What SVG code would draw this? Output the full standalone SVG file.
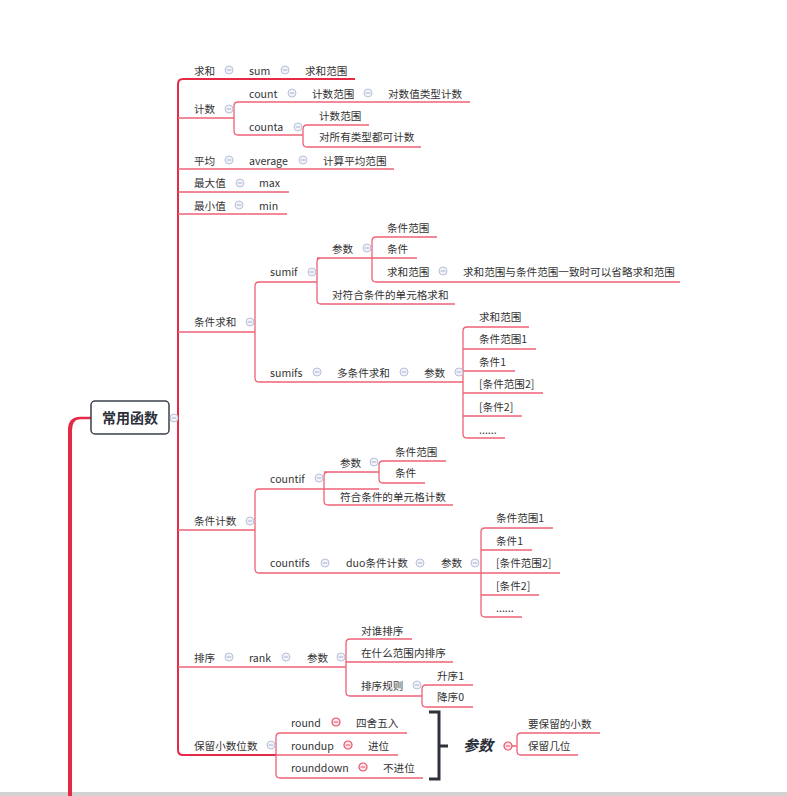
<svg xmlns="http://www.w3.org/2000/svg" width="787" height="796" viewBox="0 0 787 796">
<style>
text{font-family:"Noto Sans CJK SC","Liberation Sans",sans-serif;font-size:10.6px;fill:#333}
.ln{fill:none;stroke:#ef6277;stroke-width:1.3}
.tr{fill:none;stroke:#e62a45;stroke-width:2}
.ic circle{fill:#f1f3f9;stroke:#b7c1da;stroke-width:1}
.ic line{stroke:#a9b5d2;stroke-width:1}
.rc circle{fill:#fde9ec;stroke:#e8506a;stroke-width:1.2}
.rc line{stroke:#e8506a;stroke-width:1}
.root text{font-size:14px;font-weight:bold;fill:#2b2f3a}
</style>
<defs>
<g id="ico" class="ic"><circle r="4"/><line x1="-2.3" y1="0" x2="2.3" y2="0"/></g>
<g id="rico" class="rc"><circle r="4"/><line x1="-2.3" y1="0" x2="2.3" y2="0"/></g>
</defs>
<rect width="787" height="796" fill="#fff"/>
<rect x="0" y="792" width="787" height="4" fill="#d2d2d2"/>

<g id="connectors">
<path d="M68,796 L68,430 Q68,417 80,416.8 L91,416.8 L91,419.2 L80,419.2 Q72,419.5 72,430 L72,796 Z" fill="#e62a45"/>
<path class="tr" d="M355,79 L183,79 Q178,79 178,84 L178,750 Q178,755 183,755 L276,755"/>
<path class="ln" d="M169,418 L178,418"/>
<path class="ln" d="M178,118 L234,118 M470,102 L238,102 Q234,102 234,106 L234,131 Q234,135 238,135 L303,135"/>
<path class="ln" d="M369,125 L307,125 Q303,125 303,129 L303,143 Q303,147 307,147 L421,147"/>
<path class="ln" d="M178,169 L394,169 M178,192 L289,192 M178,214 L287,214"/>
<path class="ln" d="M178,332 L255,332 M317,282 L259,282 Q255,282 255,286 L255,378 Q255,382 259,382 L463,382"/>
<path class="ln" d="M317,258 L372,258 M371,258 L321,258 Q317,258 317,262 L317,300 Q317,304 321,304 L455,304"/>
<path class="ln" d="M437,237 L376,237 Q372,237 372,241 L372,278 Q372,282 376,282 L680,282 M372,258 L417,258"/>
<path class="ln" d="M529,327 L467,327 Q463,327 463,331 L463,434 Q463,438 467,438 L505,438 M463,349 L536,349 M463,371 L515,371 M463,393 L543,393 M463,416 L522,416"/>
<path class="ln" d="M178,530 L255,530 M324,489 L259,489 Q255,489 255,493 L255,569 Q255,573 259,573 L560,573"/>
<path class="ln" d="M324,472 L379,472 M379,489 L324,489 M453,505 L328,505 Q324,505 324,501 L324,476 Q324,472 328,472"/>
<path class="ln" d="M446,461 L383,461 Q379,461 379,465 L379,479 Q379,483 383,483 L425,483"/>
<path class="ln" d="M553,528 L485,528 Q481,528 481,532 L481,613 Q481,617 485,617 L522,617 M481,550 L532,550 M481,595 L539,595"/>
<path class="ln" d="M178,667 L346,667 M412,639 L350,639 Q346,639 346,643 L346,692 Q346,696 350,696 L422,696 M346,662 L453,662"/>
<path class="ln" d="M473,685 L426,685 Q422,685 422,689 L422,703 Q422,707 426,707 L473,707"/>
<path class="ln" d="M407,733 L280,733 Q276,733 276,737 L276,774 Q276,778 280,778 L423,778 M276,755 L398,755"/>
<path fill="none" stroke="#2f323a" stroke-width="3" d="M429,712 L439,712 L439,779 L429,779 M439,746 L448,746"/>
<path class="ln" d="M512,746 L517,746 M600,733 L521,733 Q517,733 517,737 L517,751 Q517,755 521,755 L578,755"/>
</g>

<g id="root" class="root">
<rect x="91" y="401" width="78" height="33" rx="4" fill="#fff" stroke="#3a3f4a" stroke-width="1.5"/>
<text x="130" y="423" text-anchor="middle">常用函数</text>
<use href="#ico" x="174" y="418"/>
</g>

<g id="n-qiuhe"><text x="194" y="75">求和</text><use href="#ico" x="229" y="70"/></g>
<g id="n-sum"><text x="249" y="75">sum</text><use href="#ico" x="285" y="70"/></g>
<g id="n-sum-range"><text x="305" y="75">求和范围</text></g>

<g id="n-jishu"><text x="194" y="113">计数</text><use href="#ico" x="229" y="109"/></g>
<g id="n-count"><text x="249" y="98">count</text><use href="#ico" x="292" y="93"/></g>
<g id="n-count-range"><text x="312" y="98">计数范围</text><use href="#ico" x="368" y="93"/></g>
<g id="n-count-desc"><text x="388" y="98">对数值类型计数</text></g>
<g id="n-counta"><text x="249" y="131">counta</text><use href="#ico" x="298" y="127"/></g>
<g id="n-counta-range"><text x="319" y="120">计数范围</text></g>
<g id="n-counta-desc"><text x="319" y="141">对所有类型都可计数</text></g>

<g id="n-pingjun"><text x="194" y="165">平均</text><use href="#ico" x="229" y="160"/></g>
<g id="n-average"><text x="249" y="165">average</text><use href="#ico" x="303" y="160"/></g>
<g id="n-avg-range"><text x="323" y="165">计算平均范围</text></g>

<g id="n-zuidazhi"><text x="194" y="187">最大值</text><use href="#ico" x="240" y="183"/></g>
<g id="n-max"><text x="259" y="187">max</text></g>
<g id="n-zuixiaozhi"><text x="194" y="210">最小值</text><use href="#ico" x="239" y="205"/></g>
<g id="n-min"><text x="259" y="210">min</text></g>

<g id="n-tjqh"><text x="194" y="326">条件求和</text><use href="#ico" x="250" y="322"/></g>
<g id="n-sumif"><text x="270" y="276">sumif</text><use href="#ico" x="312" y="272"/></g>
<g id="n-sumif-args"><text x="332" y="253">参数</text><use href="#ico" x="367" y="248"/></g>
<g id="n-sumif-a1"><text x="387" y="232">条件范围</text></g>
<g id="n-sumif-a2"><text x="387" y="253">条件</text></g>
<g id="n-sumif-a3"><text x="387" y="276">求和范围</text><use href="#ico" x="443" y="271"/></g>
<g id="n-sumif-note"><text x="463" y="276">求和范围与条件范围一致时可以省略求和范围</text></g>
<g id="n-sumif-desc"><text x="332" y="299">对符合条件的单元格求和</text></g>
<g id="n-sumifs"><text x="270" y="377">sumifs</text><use href="#ico" x="317" y="372"/></g>
<g id="n-sumifs-desc"><text x="337" y="377">多条件求和</text><use href="#ico" x="404" y="372"/></g>
<g id="n-sumifs-args"><text x="424" y="377">参数</text><use href="#ico" x="459" y="372"/></g>
<g id="n-sumifs-a1"><text x="479" y="321">求和范围</text></g>
<g id="n-sumifs-a2"><text x="479" y="343">条件范围1</text></g>
<g id="n-sumifs-a3"><text x="479" y="366">条件1</text></g>
<g id="n-sumifs-a4"><text x="479" y="388">[条件范围2]</text></g>
<g id="n-sumifs-a5"><text x="479" y="411">[条件2]</text></g>
<g id="n-sumifs-a6"><text x="479" y="434">......</text></g>

<g id="n-tjjs"><text x="194" y="525">条件计数</text><use href="#ico" x="250" y="521"/></g>
<g id="n-countif"><text x="270" y="483">countif</text><use href="#ico" x="319" y="478"/></g>
<g id="n-countif-args"><text x="340" y="467">参数</text><use href="#ico" x="374" y="462"/></g>
<g id="n-countif-a1"><text x="395" y="456">条件范围</text></g>
<g id="n-countif-a2"><text x="395" y="477">条件</text></g>
<g id="n-countif-desc"><text x="340" y="501">符合条件的单元格计数</text></g>
<g id="n-countifs"><text x="270" y="567">countifs</text><use href="#ico" x="325" y="563"/></g>
<g id="n-countifs-desc"><text x="346" y="567">duo条件计数</text><use href="#ico" x="420" y="563"/></g>
<g id="n-countifs-args"><text x="441" y="567">参数</text><use href="#ico" x="475" y="563"/></g>
<g id="n-countifs-a1"><text x="496" y="522">条件范围1</text></g>
<g id="n-countifs-a2"><text x="496" y="545">条件1</text></g>
<g id="n-countifs-a3"><text x="496" y="567">[条件范围2]</text></g>
<g id="n-countifs-a4"><text x="496" y="590">[条件2]</text></g>
<g id="n-countifs-a5"><text x="496" y="612">......</text></g>

<g id="n-paixu"><text x="194" y="662">排序</text><use href="#ico" x="229" y="657"/></g>
<g id="n-rank"><text x="249" y="662">rank</text><use href="#ico" x="286" y="657"/></g>
<g id="n-rank-args"><text x="307" y="662">参数</text><use href="#ico" x="341" y="657"/></g>
<g id="n-rank-a1"><text x="361" y="635">对谁排序</text></g>
<g id="n-rank-a2"><text x="361" y="657">在什么范围内排序</text></g>
<g id="n-rank-a3"><text x="361" y="690">排序规则</text><use href="#ico" x="417" y="685"/></g>
<g id="n-asc"><text x="437" y="680">升序1</text></g>
<g id="n-desc"><text x="437" y="701">降序0</text></g>

<g id="n-blxsws"><text x="194" y="750">保留小数位数</text><use href="#ico" x="271" y="745"/></g>
<g id="n-round"><text x="291" y="727">round</text><use href="#rico" x="336" y="722"/></g>
<g id="n-round-desc"><text x="356" y="727">四舍五入</text></g>
<g id="n-roundup"><text x="291" y="750">roundup</text><use href="#rico" x="348" y="745"/></g>
<g id="n-roundup-desc"><text x="368" y="750">进位</text></g>
<g id="n-rounddown"><text x="291" y="772">rounddown</text><use href="#rico" x="363" y="767"/></g>
<g id="n-rounddown-desc"><text x="383" y="772">不进位</text></g>
<g id="n-summary"><text x="463" y="751" style="font-size:15px;font-weight:bold;font-style:italic;fill:#2b2f3a">参数</text><use href="#rico" x="508" y="746"/></g>
<g id="n-summary-a1"><text x="528" y="728">要保留的小数</text></g>
<g id="n-summary-a2"><text x="528" y="750">保留几位</text></g>
</svg>
